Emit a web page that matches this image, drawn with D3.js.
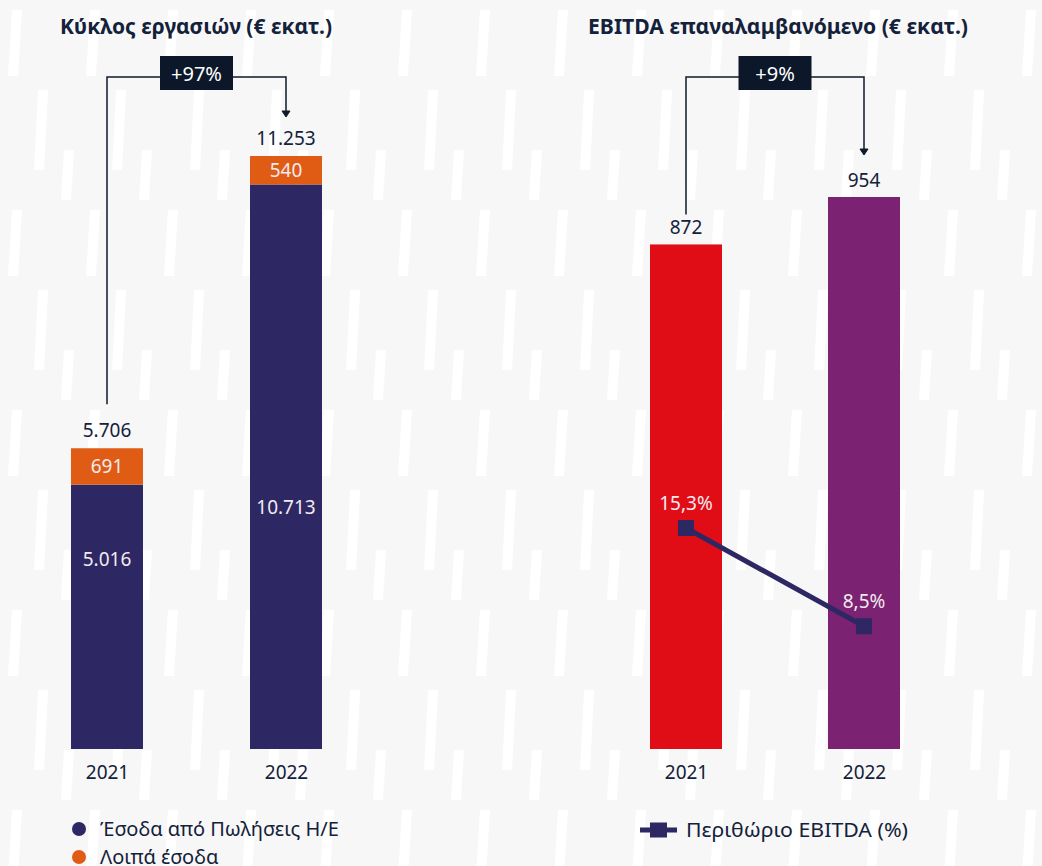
<!DOCTYPE html>
<html>
<head>
<meta charset="utf-8">
<script src="https://cdn.jsdelivr.net/npm/d3@7"></script>
<style>
  html, body { margin: 0; padding: 0; background: #f7f7f7; }
  svg { display: block; font-family: "Noto Sans", sans-serif; }
</style>
</head>
<body>
<div id="chart"></div>
<script>
// data
var years = ["2021", "2022"];
var salesRevenue = [5016, 10713];   // Έσοδα από Πωλήσεις Η/Ε
var otherRevenue = [691, 540];      // Λοιπά έσοδα
var totalRevenue = [5706, 11253];
var ebitda = [872, 954];
var ebitdaMargin = [15.3, 8.5];
var revenueGrowth = "+97%";
var ebitdaGrowth = "+9%";

var width = 1042, height = 866;
var baseY = 749, barW = 72, bracketTop = 77;
var navy = "#2d2763", orange = "#e05c14", red = "#e00c16", purple = "#7c2272";
var ink = "#13213a", light = "#f2eaf0";
var numSize = "19px";
// where the inner label sits inside the navy segment (share from top)
var innerLabelShare = [0.284, 0.572];

var fmt = function(v) { return d3.format(",")(v).replace(/,/g, "."); };

var svg = d3.select("#chart").append("svg")
    .attr("width", width)
    .attr("height", height);

// background stripes
var defs = svg.append("defs");
var pat = defs.append("pattern")
    .attr("id", "stripes")
    .attr("patternUnits", "userSpaceOnUse")
    .attr("width", 78)
    .attr("height", 200);
[[8, 10, 66], [34, 90, 80], [60, 150, 66]].forEach(function(s) {
    pat.append("path")
        .attr("d", "M" + s[0] + "," + (s[1] + s[2]) + " l10,0 l4," + (-s[2]) + " l-10,0 z")
        .attr("fill", "#ffffff");
});
svg.append("rect").attr("width", width).attr("height", height).attr("fill", "#f7f7f7");
svg.append("rect").attr("width", width).attr("height", height).attr("fill", "url(#stripes)");

// scales
var xL = d3.scalePoint().domain(years).range([107, 286]);
var xR = d3.scalePoint().domain(years).range([686, 864]);
var yL = d3.scaleLinear().domain([0, 11253]).range([baseY, 156]);
var yR = d3.scaleLinear().domain([0, 954]).range([baseY, 197]);
var yM = d3.scaleLinear().domain([0, 15.3]).range([baseY, 528]);

// titles
svg.append("text").attr("x", 60).attr("y", 27).attr("dy", "0.35em")
    .style("font-size", "20.5px").style("font-weight", 700).attr("fill", ink)
    .attr("textLength", 272).attr("lengthAdjust", "spacingAndGlyphs")
    .text("Κύκλος εργασιών (€ εκατ.)");
svg.append("text").attr("x", 588).attr("y", 27).attr("dy", "0.35em")
    .style("font-size", "20.5px").style("font-weight", 700).attr("fill", ink)
    .attr("textLength", 380).attr("lengthAdjust", "spacingAndGlyphs")
    .text("EBITDA επαναλαμβανόμενο (€ εκατ.)");

// ---- left chart: stacked revenue
var left = svg.append("g");
var rows = years.map(function(y, i) {
    return { year: y, sales: salesRevenue[i], other: otherRevenue[i], total: totalRevenue[i], share: innerLabelShare[i] };
});

left.selectAll("rect.sales").data(rows).enter().append("rect")
    .attr("x", d => xL(d.year) - barW / 2)
    .attr("width", barW)
    .attr("y", d => yL(d.sales))
    .attr("height", d => yL(0) - yL(d.sales))
    .attr("fill", navy);

left.selectAll("rect.other").data(rows).enter().append("rect")
    .attr("x", d => xL(d.year) - barW / 2)
    .attr("width", barW)
    .attr("y", d => yL(d.sales + d.other))
    .attr("height", d => yL(d.sales) - yL(d.sales + d.other))
    .attr("fill", orange);

left.selectAll("text.sales").data(rows).enter().append("text")
    .attr("x", d => xL(d.year))
    .attr("y", d => yL(d.sales) + d.share * (yL(0) - yL(d.sales)))
    .attr("dy", "0.35em").attr("text-anchor", "middle")
    .style("font-size", numSize).attr("fill", light)
    .text(d => fmt(d.sales));

left.selectAll("text.other").data(rows).enter().append("text")
    .attr("x", d => xL(d.year))
    .attr("y", d => (yL(d.sales) + yL(d.sales + d.other)) / 2)
    .attr("dy", "0.35em").attr("text-anchor", "middle")
    .style("font-size", numSize).attr("fill", light)
    .text(d => fmt(d.other));

left.selectAll("text.total").data(rows).enter().append("text")
    .attr("x", d => xL(d.year))
    .attr("y", d => yL(d.sales + d.other) - 18)
    .attr("dy", "0.35em").attr("text-anchor", "middle")
    .style("font-size", numSize).attr("fill", ink)
    .text(d => fmt(d.total));

// ---- right chart: EBITDA bars + margin line
var right = svg.append("g");
right.selectAll("rect.ebitda").data(years).enter().append("rect")
    .attr("x", d => xR(d) - barW / 2)
    .attr("width", barW)
    .attr("y", (d, i) => yR(ebitda[i]))
    .attr("height", (d, i) => yR(0) - yR(ebitda[i]))
    .attr("fill", (d, i) => i === 0 ? red : purple);

right.selectAll("text.ebitda").data(years).enter().append("text")
    .attr("x", d => xR(d))
    .attr("y", (d, i) => yR(ebitda[i]) - 17)
    .attr("dy", "0.35em").attr("text-anchor", "middle")
    .style("font-size", numSize).attr("fill", ink)
    .text((d, i) => ebitda[i]);

var line = d3.line()
    .x((d, i) => xR(years[i]))
    .y(d => yM(d));
right.append("path")
    .datum(ebitdaMargin)
    .attr("d", line)
    .attr("fill", "none")
    .attr("stroke", navy)
    .attr("stroke-width", 5);

right.selectAll("rect.marker").data(ebitdaMargin).enter().append("rect")
    .attr("x", (d, i) => xR(years[i]) - 8)
    .attr("y", d => yM(d) - 8)
    .attr("width", 16).attr("height", 16)
    .attr("fill", navy);

right.selectAll("text.margin").data(ebitdaMargin).enter().append("text")
    .attr("x", (d, i) => xR(years[i]))
    .attr("y", d => yM(d) - 25)
    .attr("dy", "0.35em").attr("text-anchor", "middle")
    .style("font-size", numSize).attr("fill", light)
    .text(d => d3.format(".1f")(d).replace(".", ",") + "%");

// x axes
function yearAxis(scale) {
    var g = svg.append("g")
        .attr("transform", "translate(0," + baseY + ")")
        .call(d3.axisBottom(scale).tickSize(0).tickPadding(0));
    g.select(".domain").remove();
    g.selectAll("text")
        .attr("y", 23).attr("dy", "0.35em")
        .style("font-size", numSize)
        .style("font-family", "Noto Sans, sans-serif")
        .attr("fill", ink);
}
yearAxis(xL);
yearAxis(xR);

// growth brackets
function bracket(x0, x1, yFrom, yTo, label) {
    var g = svg.append("g");
    g.append("path")
        .attr("d", "M" + x0 + "," + yFrom + "V" + bracketTop + "H" + x1 + "V" + (yTo - 5))
        .attr("fill", "none").attr("stroke", "#0e1a2b").attr("stroke-width", 1.5);
    g.append("path")
        .attr("d", "M" + (x1 - 4) + "," + (yTo - 6) + "L" + x1 + "," + yTo + "L" + (x1 + 4) + "," + (yTo - 6) + "Z")
        .attr("fill", "#0e1a2b").attr("stroke", "#0e1a2b").attr("stroke-width", 1);
    var cx = (x0 + x1) / 2;
    g.append("rect")
        .attr("x", cx - 36.5).attr("y", 56).attr("width", 73).attr("height", 34)
        .attr("fill", "#0c1829");
    g.append("text")
        .attr("x", cx).attr("y", 74).attr("dy", "0.35em").attr("text-anchor", "middle")
        .style("font-size", "20px").attr("fill", "#ffffff")
        .text(label);
}
bracket(xL(years[0]), xL(years[1]), yL(totalRevenue[0]) - 44, yL(totalRevenue[1]) - 39, revenueGrowth);
bracket(xR(years[0]), xR(years[1]), yR(ebitda[0]) - 30, yR(ebitda[1]) - 42, ebitdaGrowth);

// legends
var legL = [
    { label: "Έσοδα από Πωλήσεις Η/Ε", color: navy },
    { label: "Λοιπά έσοδα", color: orange }
];
var lg = svg.append("g").selectAll("g").data(legL).enter().append("g")
    .attr("transform", (d, i) => "translate(79," + (829 + i * 28) + ")");
lg.append("circle").attr("r", 7).attr("fill", d => d.color);
lg.append("text").attr("x", 21).attr("dy", "0.35em")
    .style("font-size", "20px").attr("fill", ink)
    .text(d => d.label);

var lr = svg.append("g").attr("transform", "translate(640,830)");
lr.append("line").attr("x1", 0).attr("x2", 37)
    .attr("stroke", navy).attr("stroke-width", 5);
lr.append("rect").attr("x", 10).attr("y", -7.5).attr("width", 17).attr("height", 15).attr("fill", navy);
lr.append("text").attr("x", 46).attr("dy", "0.35em")
    .style("font-size", "20px").attr("fill", ink)
    .attr("textLength", 222).attr("lengthAdjust", "spacingAndGlyphs")
    .text("Περιθώριο EBITDA (%)");
</script>
</body>
</html>
